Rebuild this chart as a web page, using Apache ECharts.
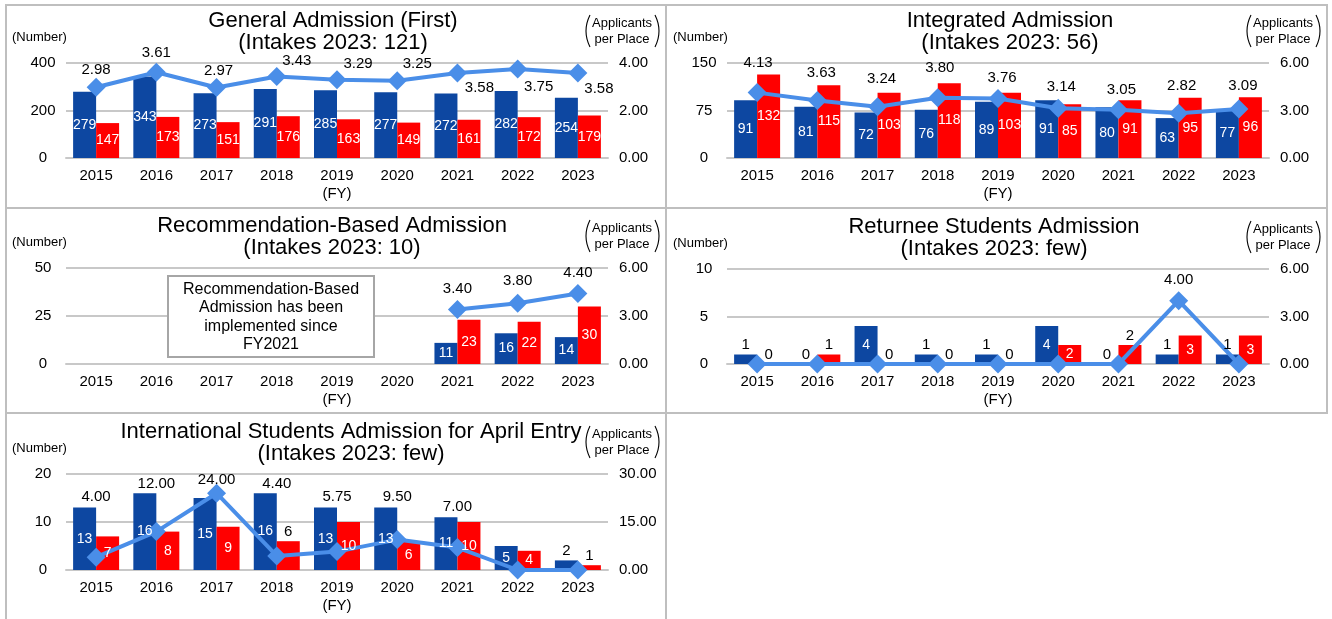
<!DOCTYPE html>
<html><head><meta charset="utf-8">
<script src="https://cdn.jsdelivr.net/npm/echarts@6/dist/echarts.min.js"></script>
<style>html,body{margin:0;padding:0;background:#fff}#c{width:1332px;height:619px}</style>
</head><body><div id="c"></div>
<script>
// ---------- DATA ----------
const years = ['2015','2016','2017','2018','2019','2020','2021','2022','2023'];

const generalBlue  = [279,343,273,291,285,277,272,282,254];
const generalRed   = [147,173,151,176,163,149,161,172,179];
const generalRatio = [2.98,3.61,2.97,3.43,3.29,3.25,3.58,3.75,3.58];

const integratedBlue  = [91,81,72,76,89,91,80,63,77];
const integratedRed   = [132,115,103,118,103,85,91,95,96];
const integratedRatio = [4.13,3.63,3.24,3.80,3.76,3.14,3.05,2.82,3.09];

const recommendBlue  = [null,null,null,null,null,null,11,16,14];
const recommendRed   = [null,null,null,null,null,null,23,22,30];
const recommendRatio = [null,null,null,null,null,null,3.40,3.80,4.40];

const returneeBlue  = [1,0,4,1,1,4,0,1,1];
const returneeRed   = [0,1,0,0,0,2,2,3,3];
const returneeRatio = [0,0,0,0,0,0,0,4.00,0];

const intlBlue  = [13,16,15,16,13,13,11,5,2];
const intlRed   = [7,8,9,6,10,6,10,4,1];
const intlRatio = [4.00,12.00,24.00,4.40,5.75,9.50,7.00,0,0];

const titles = [
  'General Admission (First)\n(Intakes 2023: 121)',
  'Integrated Admission\n(Intakes 2023: 56)',
  'Recommendation-Based Admission\n(Intakes 2023: 10)',
  'Returnee Students Admission\n(Intakes 2023: few)',
  'International Students Admission for April Entry\n(Intakes 2023: few)'
];
const leftTicks  = [[0,200,400],[0,75,150],[0,25,50],[0,5,10],[0,10,20]];
const rightTicks = [[0,2,4],[0,3,6],[0,3,6],[0,3,6],[0,15,30]];
const noteText = 'Recommendation-Based\nAdmission has been\nimplemented since\nFY2021';
const leftName = '(Number)';
const rightName = 'Applicants\nper Place';
const xName = '(FY)';

// ---------- STYLE / LAYOUT ----------
const FONT = '"Liberation Sans", Arial, sans-serif';
const BLUE = '#0d47a1', RED = '#ff0000', LINE = '#4a8ee8', GRIDC = '#c8c8c8', BORDER = '#bfbfbf';

const layouts = [
  {dx:0,   gt:63,  gh:95, tx:333,  ty:10},
  {dx:661, gt:63,  gh:95, tx:1010, ty:10},
  {dx:0,   gt:268, gh:96, tx:332,  ty:215},
  {dx:661, gt:269, gh:95, tx:994,  ty:216},
  {dx:0,   gt:474, gh:96, tx:351,  ty:421}
];
// label offsets of ratio labels relative to the marker centre
const ratioLabelOffsets = [
  [[0,-17],[0,-19],[2,-17],[20,-16],[21,-16],[20,-17],[22,15],[21,18],[21,16]],
  [[1,-30],[4,-28],[4,-28],[2,-30],[4,-21],[3,-21],[3,-20],[3,-27],[4,-23]],
  [null,null,null,null,null,null,[0,-21],[0,-22],[0,-21]],
  [null,null,null,null,null,null,null,[0,-21],null],
  [[0,-60],[0,-48],[0,-13],[0,-72],[0,-55],[0,-43],[0,-41],null,null]
];
// bars whose value label sits above the bar in black
const outsideBlue = [[],[],[],[0,1,3,4,6,7,8],[8]];
const outsideRed  = [[],[],[],[0,1,2,3,4,6],[3,8]];

const panelData = [
  [generalBlue, generalRed, generalRatio],
  [integratedBlue, integratedRed, integratedRatio],
  [recommendBlue, recommendRed, recommendRatio],
  [returneeBlue, returneeRed, returneeRatio],
  [intlBlue, intlRed, intlRatio]
];

const option = {
  animation:false,
  backgroundColor:'#fff',
  textStyle:{fontFamily:FONT},
  title:[], grid:[], xAxis:[], yAxis:[], series:[], graphic:[]
};

const txt = (x,y,text,size,align,lh) => ({
  type:'text', x:x, y:y, z:100,
  style:{text:text, fontSize:size, fontFamily:FONT, fill:'#000', align:align||'center', verticalAlign:'middle', lineHeight:lh||size}
});

panelData.forEach((pd, i) => {
  const L = layouts[i];
  const gl = 66 + L.dx, gw = 542;
  option.title.push({
    text: titles[i], left: L.tx, top: L.ty, textAlign:'center', padding:0,
    textStyle:{fontSize:22, fontWeight:'normal', color:'#000', lineHeight:22, fontFamily:FONT}
  });
  option.grid.push({left: gl, top: L.gt, width: gw, height: L.gh, containLabel:false});
  option.xAxis.push({
    type:'category', gridIndex:i, data:years,
    axisTick:{show:false},
    axisLine:{lineStyle:{color:GRIDC, width:2}},
    axisLabel:{fontSize:15, color:'#000', margin:10, fontFamily:FONT},
    name:xName, nameLocation:'middle', nameGap:28,
    nameTextStyle:{fontSize:15, color:'#000', fontFamily:FONT}
  });
  // hidden twin axis carrying the bar value labels on top of the line
  option.xAxis.push({type:'category', gridIndex:i, data:years, show:false});
  const lt = leftTicks[i], rt = rightTicks[i];
  option.yAxis.push({
    type:'value', gridIndex:i, min:lt[0], max:lt[lt.length-1], interval:lt[1]-lt[0],
    splitLine:{lineStyle:{color:GRIDC, width:2}},
    axisLine:{show:false}, axisTick:{show:false},
    axisLabel:{fontSize:15, color:'#000', align:'center', margin:23, fontFamily:FONT}
  });
  option.yAxis.push({
    type:'value', gridIndex:i, position:'right', min:rt[0], max:rt[rt.length-1], interval:rt[1]-rt[0],
    splitLine:{show:false}, axisLine:{show:false}, axisTick:{show:false},
    axisLabel:{fontSize:15, color:'#000', align:'left', margin:11, fontFamily:FONT,
      formatter: v => v.toFixed(2)}
  });
  const mkBar = (arr) => arr.map(v => v === null ? '-' : v);
  const mkLabels = (arr, outs) => arr.map((v, k) => {
    if (v === null) return '-';
    const out = outs.indexOf(k) >= 0;
    return {value:v, label: out
      ? {show:true, position:'top', distance:2, color:'#000', fontSize:15, fontFamily:FONT}
      : {show:true, position:'inside', color:'#fff', fontSize:14, fontFamily:FONT}};
  });
  [[pd[0], BLUE, outsideBlue[i]], [pd[1], RED, outsideRed[i]]].forEach(([arr, color]) => {
    option.series.push({
      type:'bar', xAxisIndex:2*i, yAxisIndex:2*i, barWidth:23, barGap:'0%',
      itemStyle:{color:color}, data: mkBar(arr), z:2
    });
  });
  option.series.push({
    type:'line', xAxisIndex:2*i, yAxisIndex:2*i+1,
    symbol:'diamond', symbolSize:19, z:5,
    lineStyle:{color:LINE, width:4}, itemStyle:{color:LINE},
    data: pd[2].map((v,k) => {
      if (v === null) return '-';
      const off = ratioLabelOffsets[i][k];
      return {value:v, label: off
        ? {show:true, position:'inside', offset:off, color:'#000', fontSize:15, fontFamily:FONT,
           formatter: p => Number(p.value).toFixed(2)}
        : {show:false}};
    })
  });
  [[pd[0], outsideBlue[i]], [pd[1], outsideRed[i]]].forEach(([arr, outs]) => {
    option.series.push({
      type:'bar', xAxisIndex:2*i+1, yAxisIndex:2*i, barWidth:23, barGap:'0%',
      itemStyle:{color:'rgba(0,0,0,0)'}, data: mkLabels(arr, outs), z:10, silent:true
    });
  });
  // axis names
  option.graphic.push(txt(12 + L.dx, L.gt - 26, leftName, 13, 'left'));
  const rcx = 622 + L.dx, rcy = L.gt - 32;
  option.graphic.push(txt(rcx, rcy, rightName, 13, 'center', 16));
  option.graphic.push({type:'bezierCurve', z:100, shape:{x1:590+L.dx, y1:rcy-16, x2:590+L.dx, y2:rcy+16, cpx1:582+L.dx, cpy1:rcy},
    style:{stroke:'#000', lineWidth:1.1, fill:null}});
  option.graphic.push({type:'bezierCurve', z:100, shape:{x1:655+L.dx, y1:rcy-16, x2:655+L.dx, y2:rcy+16, cpx1:663+L.dx, cpy1:rcy},
    style:{stroke:'#000', lineWidth:1.1, fill:null}});
});

// note box in recommendation panel
option.graphic.push({type:'rect', z:50, shape:{x:168, y:276, width:206, height:81},
  style:{fill:'#fff', stroke:'#a6a6a6', lineWidth:2}});
option.graphic.push(txt(271, 317, noteText, 16, 'center', 18.5));

// panel borders
const ln = (x1,y1,x2,y2) => ({type:'line', z:100, shape:{x1,y1,x2,y2}, style:{stroke:BORDER, lineWidth:2}});
option.graphic.push(ln(5,5,1328,5));
option.graphic.push(ln(6,4,6,619));
option.graphic.push(ln(666,4,666,619));
option.graphic.push(ln(1327,4,1327,414));
option.graphic.push(ln(5,208,1328,208));
option.graphic.push(ln(5,413,1328,413));

const chart = echarts.init(document.getElementById('c'), null, {renderer:'canvas'});
chart.setOption(option);
</script></body></html>
